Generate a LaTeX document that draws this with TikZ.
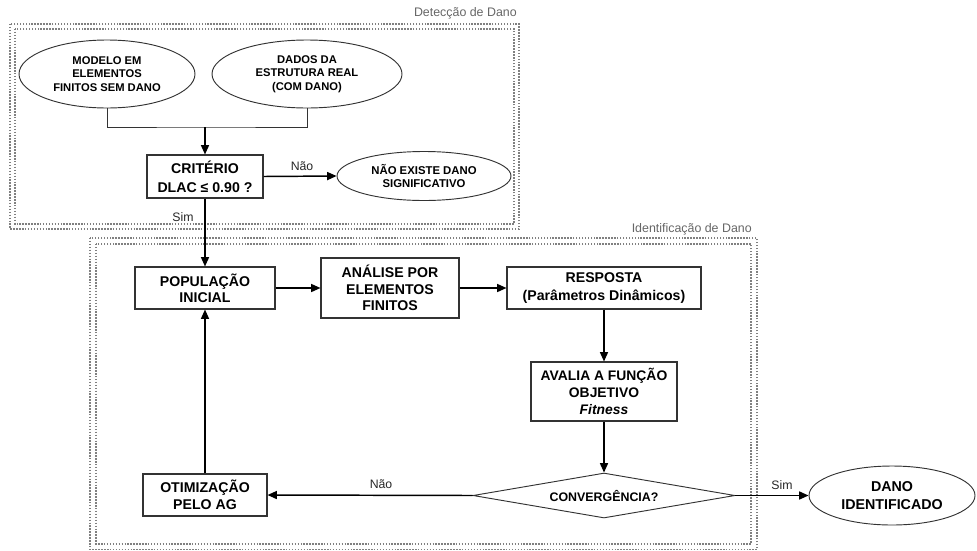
\documentclass[tikz,border=0pt]{standalone}
\usepackage{fontspec}
\setmainfont{Liberation Sans}
\usetikzlibrary{shapes.geometric,arrows.meta}
\tikzset{
  boxst/.style={draw=black!80, line width=0.8pt, fill=white, inner sep=0pt, align=center, font=\bfseries\fontsize{10.6}{12.5}\selectfont},
  ellst/.style={draw=black!80, line width=0.7pt, ellipse, inner sep=0pt, align=center, font=\bfseries\fontsize{8.4}{10}\selectfont},
  arr/.style={line width=1.1pt, -{Triangle[length=7pt,width=6pt]}},
  thinln/.style={line width=0.7pt, draw=black!80},
  frame/.style={draw=black!50, line width=1.1pt, dash pattern=on 1.1pt off 1.1pt},
  frlabel/.style={text=black!60, font=\fontsize{9.3}{11}\selectfont, inner sep=0pt},
  lbl/.style={text=black!85, font=\fontsize{9.2}{11}\selectfont, inner sep=0pt}
}
\begin{document}
\begin{tikzpicture}[x=0.75pt,y=-0.75pt]
\useasboundingbox (0,0) rectangle (977,550);
% frames
\draw[frame] (10,24) rectangle (519,229);
\draw[frame] (15,29) rectangle (514,224);
\draw[frame] (90,238) rectangle (757,549.5);
\draw[frame] (96,244) rectangle (751,544);
\node[frlabel, anchor=east] (fl1) at (517,13) {Detecção de Dano};
\node[frlabel, anchor=east] (fl2) at (752,229) {Identificação de Dano};
% nodes
\node[ellst, minimum width=132pt, minimum height=51pt] (e1) at (107,74) {MODELO EM\\ELEMENTOS\\FINITOS SEM DANO};
\node[ellst, minimum width=142.5pt, minimum height=51pt] (e2) at (307,74) {DADOS DA\\ESTRUTURA REAL\\(COM DANO)};
\node[boxst, minimum width=87pt, minimum height=32.25pt, font=\bfseries\fontsize{10.6}{14}\selectfont] (crit) at (205,176.5) {CRITÉRIO\\DLAC ≤ 0.90 ?};
\node[ellst, minimum width=130.5pt, minimum height=36.75pt, font=\bfseries\fontsize{8.5}{10}\selectfont] (e3) at (424,176) {NÃO EXISTE DANO\\SIGNIFICATIVO};
\node[boxst, minimum width=105pt, minimum height=31.5pt, font=\bfseries\fontsize{10.6}{12}\selectfont] (pop) at (205,288) {POPULAÇÃO\\INICIAL};
\node[boxst, minimum width=103.5pt, minimum height=45pt] (ana) at (390,288) {ANÁLISE POR\\ELEMENTOS\\FINITOS};
\node[boxst, minimum width=145.5pt, minimum height=31.5pt, font=\bfseries\fontsize{10.6}{13.7}\selectfont] (resp) at (604,288) {RESPOSTA\\(Parâmetros Dinâmicos)};
\node[boxst, minimum width=109.5pt, minimum height=44.25pt, font=\bfseries\fontsize{10.4}{12.5}\selectfont] (aval) at (604,391.5) {AVALIA A FUNÇÃO\\OBJETIVO\\\textit{Fitness}};
\node[draw=black!80, line width=0.7pt, diamond, aspect=5.8, inner sep=0pt, minimum width=196.5pt, minimum height=33.75pt, font=\bfseries\fontsize{9.3}{11}\selectfont] (diam) at (604,495.5) {CONVERGÊNCIA?};
\node[boxst, minimum width=93pt, minimum height=31.5pt, font=\bfseries\fontsize{10.6}{12.5}\selectfont] (otim) at (205,495) {OTIMIZAÇÃO\\PELO AG};
\node[ellst, minimum width=124.5pt, minimum height=44.25pt, font=\bfseries\fontsize{10.7}{13}\selectfont] (dano) at (892,495.5) {DANO\\IDENTIFICADO};
% connectors
\coordinate (m) at (205,127);
\draw[thinln] (e1.south) |- (m) -| (e2.south);
\draw[arr] (m) -- (crit.north);
\draw[arr] (crit.east) -- (e3.west);
\node[lbl] (nao1) at (302,166) {Não};
\draw[arr] (crit.south) -- (pop.north);
\node[lbl] (sim1) at (183,217) {Sim};
\draw[arr] (pop.east) -- (ana.west);
\draw[arr] (ana.east) -- (resp.west);
\draw[arr] (resp.south) -- (aval.north);
\draw[arr] (aval.south) -- (diam.north);
\draw[arr] (diam.west) -- (otim.east);
\node[lbl] (nao2) at (381,484) {Não};
\draw[arr] (otim.north) -- (pop.south);
\draw[arr] (diam.east) -- (dano.west);
\node[lbl] (sim2) at (782,485) {Sim};
\end{tikzpicture}
\end{document}
